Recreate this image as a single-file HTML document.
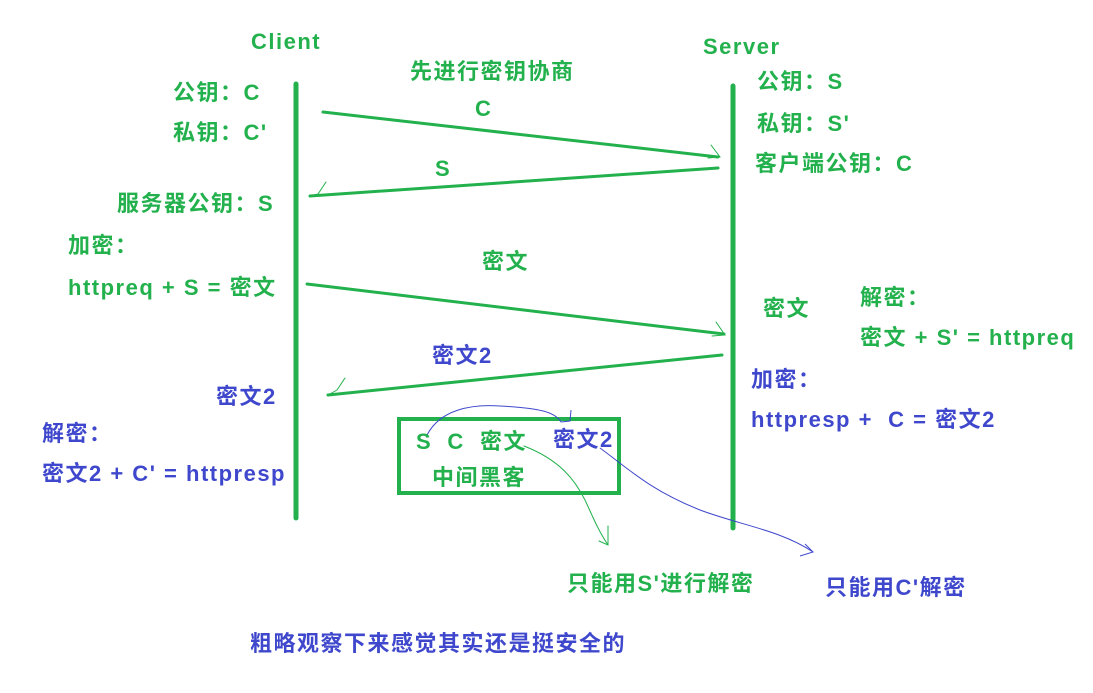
<!DOCTYPE html>
<html><head><meta charset="utf-8"><style>
html,body{margin:0;padding:0;background:#fff;}
svg{display:block;}
text{font-family:"Liberation Sans","Noto Sans CJK SC",sans-serif;font-weight:bold;font-size:22px;letter-spacing:1.5px;dominant-baseline:middle;white-space:pre;}
.g{fill:#22b14c}.b{fill:#3f48cc}
</style></head><body>
<svg width="1093" height="693" viewBox="0 0 1093 693" xml:space="preserve">
<g stroke="#22b14c" fill="none" stroke-linecap="round">
<line x1="296" y1="84" x2="296" y2="518" stroke-width="5"/>
<line x1="733" y1="86" x2="733" y2="528" stroke-width="5"/>
<rect x="399" y="419" width="220" height="74" stroke-width="4"/>
<path d="M323 112 L718 157" stroke-width="3"/>
<path d="M711 145 L720 157 L708 158" stroke-width="1"/>
<path d="M718 168 L310 196" stroke-width="3"/>
<path d="M326 182 L318 194 L310 196" stroke-width="1"/>
<path d="M307 284 L724 334" stroke-width="3"/>
<path d="M716 322 L725 335 L712 336" stroke-width="1"/>
<path d="M722 355 L328 395" stroke-width="3"/>
<path d="M345 378 L337 390 L328 395" stroke-width="1"/>
<path d="M524 446 C560 460 575 480 585 500 C592 515 598 530 608 545" stroke-width="1"/>
<path d="M608 526 L608 545 L599 541" stroke-width="1"/>
</g>
<g stroke="#3f48cc" fill="none" stroke-width="1">
<path d="M427 435 C440 410 470 404 500 406 C540 408 555 412 561 422 L570 421 L571 410"/>
<path d="M600 448 C630 470 650 490 700 510 C740 525 780 530 813 552 L800 556"/>
<path d="M805 544 L813 552"/>
</g>
<text x="251" y="43" class="g">Client</text>
<text x="703" y="48" class="g">Server</text>
<text x="410" y="73" class="g">先进行密钥协商</text>
<text x="173" y="94" class="g">公钥：C</text>
<text x="173" y="134" class="g">私钥：C'</text>
<text x="117" y="205" class="g">服务器公钥：S</text>
<text x="68" y="247" class="g">加密：</text>
<text x="68" y="289" class="g">httpreq + S = 密文</text>
<text x="475" y="110" class="g">C</text>
<text x="435" y="170" class="g">S</text>
<text x="482" y="263" class="g">密文</text>
<text x="432" y="357" class="b">密文2</text>
<text x="757" y="83" class="g">公钥：S</text>
<text x="757" y="125" class="g">私钥：S'</text>
<text x="755" y="165" class="g">客户端公钥：C</text>
<text x="763" y="310" class="g">密文</text>
<text x="860" y="299" class="g">解密：</text>
<text x="860" y="339" class="g">密文 + S' = httpreq</text>
<text x="751" y="381" class="b">加密：</text>
<text x="751" y="421" class="b">httpresp +  C = 密文2</text>
<text x="216" y="398" class="b">密文2</text>
<text x="42" y="435" class="b">解密：</text>
<text x="42" y="475" class="b">密文2 + C' = httpresp</text>
<text x="416" y="443" class="g">S  C  密文</text>
<text x="553" y="441" class="b">密文2</text>
<text x="432" y="479" class="g">中间黑客</text>
<text x="567" y="585" class="g">只能用S'进行解密</text>
<text x="825" y="589" class="b">只能用C'解密</text>
<text x="250" y="645" class="b">粗略观察下来感觉其实还是挺安全的</text>
</svg>
</body></html>
